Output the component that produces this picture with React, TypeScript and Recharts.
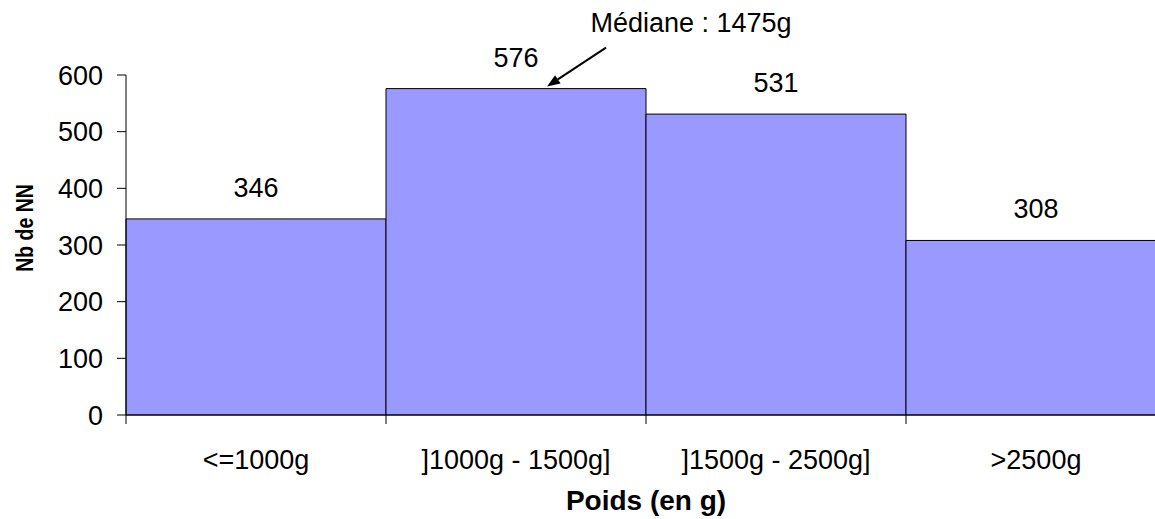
import { Bar, BarChart, LabelList, ReferenceDot, XAxis, YAxis } from "recharts";

const categories = ["<=1000g", "]1000g - 1500g]", "]1500g - 2500g]", ">2500g"];
const counts = [346, 576, 531, 308];
const yTicks = [0, 100, 200, 300, 400, 500, 600];
const medianCategory = "]1000g - 1500g]";
const medianValue = 576;
const medianText = "Médiane : 1475g";

const FONT = '"Liberation Sans", Arial, sans-serif';

const data = categories.map((name, i) => ({ name, count: counts[i] }));

function CategoryTick(props: any) {
  const { x, y, payload } = props;
  const half = payload?.offset ?? 130;
  const axisY = y - 35;
  return (
    <g>
      <line x1={x - half} y1={axisY} x2={x - half} y2={axisY + 9} stroke="#000" strokeWidth={1} />
      <text x={x} y={y} dy="0.71em" textAnchor="middle" fontSize={27} fontFamily={FONT} fill="#000">
        {payload.value}
      </text>
    </g>
  );
}

function MedianArrow(props: any) {
  const { cx, cy } = props;
  const tipX = cx + 31;
  const tipY = cy - 2;
  const tailX = cx + 90;
  const tailY = cy - 41;
  const ang = Math.atan2(tipY - tailY, tipX - tailX);
  const len = 13;
  const w = 5;
  const bx = tipX - len * Math.cos(ang);
  const by = tipY - len * Math.sin(ang);
  const p1 = `${bx + w * Math.sin(ang)},${by - w * Math.cos(ang)}`;
  const p2 = `${bx - w * Math.sin(ang)},${by + w * Math.cos(ang)}`;
  return (
    <g>
      <line x1={tailX} y1={tailY} x2={bx} y2={by} stroke="#000" strokeWidth={2} />
      <polygon points={`${tipX},${tipY} ${p1} ${p2}`} fill="#000" />
      <text x={cx + 175} y={cy - 57} textAnchor="middle" fontSize={27} fontFamily={FONT} fill="#000">
        {medianText}
      </text>
    </g>
  );
}

export default function App() {
  return (
    <div
      style={{
        position: "absolute",
        left: 0,
        top: 0,
        width: 1155,
        height: 519,
        overflow: "hidden",
        background: "#fff",
      }}
    >
      <BarChart
        width={1166}
        height={519}
        data={data}
        margin={{ top: 75, right: 0, bottom: 0, left: 0 }}
        barCategoryGap={0}
      >
        <XAxis
          dataKey="name"
          height={104}
          axisLine={{ stroke: "#000" }}
          tickLine={false}
          tickSize={9}
          tickMargin={26}
          tick={<CategoryTick />}
          interval={0}
          label={({ viewBox }: any) => (
            <text
              x={viewBox.x + viewBox.width / 2}
              y={510}
              textAnchor="middle"
              fontSize={28}
              fontWeight="bold"
              fontFamily={FONT}
              fill="#000"
            >
              Poids (en g)
            </text>
          )}
        />
        <YAxis
          width={126}
          domain={[0, 600]}
          ticks={yTicks}
          interval={0}
          axisLine={{ stroke: "#000" }}
          tickLine={{ stroke: "#000" }}
          tickSize={9}
          tickMargin={14}
          tick={{ fill: "#000", fontSize: 27, fontFamily: FONT }}
          label={({ viewBox }: any) => {
            const lx = 33;
            const ly = viewBox.y + viewBox.height / 2 - 17;
            return (
              <text
                x={0}
                y={0}
                transform={`translate(${lx}, ${ly}) rotate(-90) scale(1, 1.2)`}
                textAnchor="middle"
                fontSize={19.5}
                fontWeight="bold"
                fontFamily={FONT}
                fill="#000"
              >
                Nb de NN
              </text>
            );
          }}
        />
        <Bar dataKey="count" fill="#9999FF" stroke="#000" strokeWidth={1} isAnimationActive={false}>
          <LabelList
            dataKey="count"
            position="top"
            offset={22}
            fill="#000"
            fontSize={27}
            fontFamily={FONT}
          />
        </Bar>
        <ReferenceDot
          x={medianCategory}
          y={medianValue}
          r={0}
          ifOverflow="visible"
          shape={(p: any) => <MedianArrow {...p} />}
        />
      </BarChart>
    </div>
  );
}
